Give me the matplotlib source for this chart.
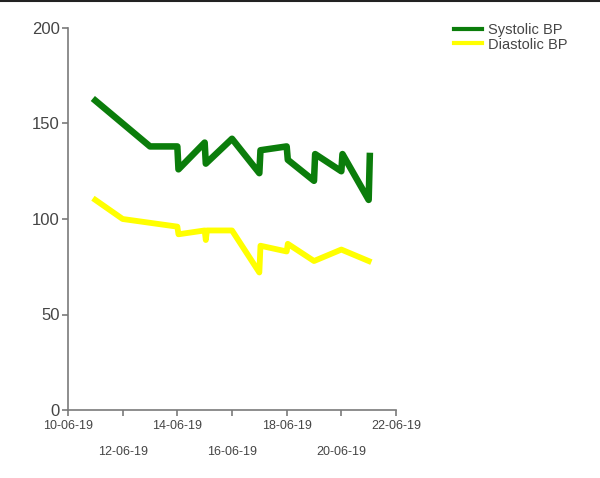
import matplotlib
matplotlib.use("Agg")
import matplotlib.pyplot as plt
import matplotlib.dates as mdates
from matplotlib.lines import Line2D
import pandas as pd

# readings (two readings on some days, an hour apart)
sys_times = ["2019-06-11 00:00", "2019-06-13 00:00", "2019-06-14 00:00", "2019-06-14 01:00",
             "2019-06-15 00:00", "2019-06-15 01:00", "2019-06-16 00:00", "2019-06-17 00:00",
             "2019-06-17 01:00", "2019-06-18 00:00", "2019-06-18 01:00", "2019-06-19 00:00",
             "2019-06-19 01:00", "2019-06-20 00:00", "2019-06-20 01:00", "2019-06-21 00:00",
             "2019-06-21 01:00"]
systolic = [162, 138, 138, 126, 140, 129, 142, 124, 136, 138, 131, 120, 134, 125, 134, 110, 133]

dia_times = ["2019-06-11 00:00", "2019-06-12 00:00", "2019-06-14 00:00", "2019-06-14 01:00",
             "2019-06-15 00:00", "2019-06-15 01:00", "2019-06-15 02:00", "2019-06-16 00:00",
             "2019-06-17 00:00", "2019-06-17 01:00", "2019-06-18 00:00", "2019-06-18 01:00",
             "2019-06-19 00:00", "2019-06-20 00:00", "2019-06-21 00:00"]
diastolic = [110, 100, 96, 92, 94, 89, 94, 94, 72, 86, 83, 87, 78, 84, 78]

sys_times = pd.to_datetime(sys_times)
dia_times = pd.to_datetime(dia_times)

plt.rcParams["font.family"] = ["Liberation Sans", "DejaVu Sans"]
text_col = "#454545"
axis_col = "#7a7a7a"

fig = plt.figure(figsize=(6.0, 4.78), dpi=100)
ax = fig.add_axes([68 / 600, 1 - 410 / 478, 328 / 600, 382 / 478])

ax.plot(sys_times, systolic, color="#0b7d0b", linewidth=4.7,
        solid_joinstyle="round", label="Systolic BP")
ax.plot(dia_times, diastolic, color="#ffff00", linewidth=4.2,
        solid_joinstyle="round", label="Diastolic BP")

ax.set_ylim(0, 200)
ax.set_yticks([0, 50, 100, 150, 200])
ax.set_xlim(pd.Timestamp("2019-06-10"), pd.Timestamp("2019-06-22"))

# staggered date labels: upper row on major ticks, lower row on minor ticks
ax.xaxis.set_major_locator(mdates.DayLocator(bymonthday=[10, 14, 18, 22]))
ax.xaxis.set_minor_locator(mdates.DayLocator(bymonthday=[12, 16, 20]))
ax.xaxis.set_major_formatter(mdates.DateFormatter("%d-%m-%y"))
ax.xaxis.set_minor_formatter(mdates.DateFormatter("%d-%m-%y"))

for s in ["top", "right"]:
    ax.spines[s].set_visible(False)
for s in ["left", "bottom"]:
    ax.spines[s].set_color(axis_col)
    ax.spines[s].set_linewidth(1.2)

ax.tick_params(axis="y", which="major", length=4, width=1.2, color=axis_col,
               labelsize=12, labelcolor=text_col, pad=2)
ax.tick_params(axis="x", which="major", length=4, width=1.2, color=axis_col,
               labelsize=9, labelcolor=text_col, pad=3)
ax.tick_params(axis="x", which="minor", length=4, width=1.2, color=axis_col,
               labelsize=9, labelcolor=text_col, pad=22)

leg = ax.legend(loc="upper left", bbox_to_anchor=(448 / 600, 1 - 17 / 478),
                bbox_transform=fig.transFigure, frameon=False, fontsize=10.5,
                handlelength=1.9, handletextpad=0.45, labelspacing=0.05,
                borderaxespad=0)
for line in leg.get_lines():
    line.set_linewidth(3)
for t in leg.get_texts():
    t.set_color(text_col)

# dark frame line along the top edge
fig.add_artist(Line2D([0, 1], [0.998, 0.998], color="#222222", linewidth=1.5,
                      transform=fig.transFigure))

fig.savefig("out.png", dpi=100)
